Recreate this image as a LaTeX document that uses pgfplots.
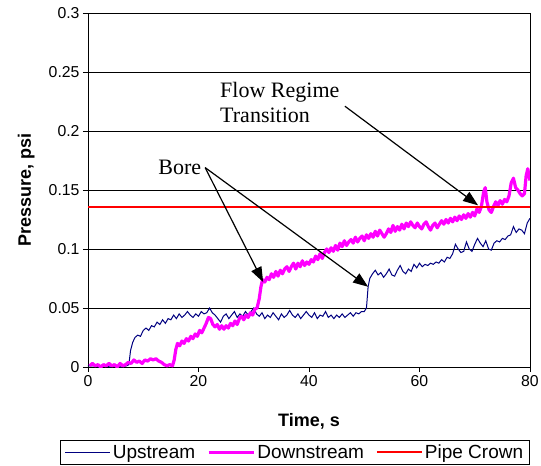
\documentclass[border=0pt]{standalone}
\usepackage{pgfplots}
\pgfplotsset{compat=1.18}
\usepackage{fontspec}
\setmainfont{Liberation Sans}
\newfontfamily\timesfont{Liberation Serif}
\usetikzlibrary{arrows.meta}
\definecolor{upnavy}{RGB}{0,0,128}
\definecolor{downmag}{RGB}{255,0,255}
\definecolor{crownred}{RGB}{255,0,0}
\pgfplotstableread{
x y
0 0.001
1 0.001
2 0.0
3 0.001
4 0.0
5 0.001
6 0.0
7 0.001
7.4 0.002
7.7 0.014
8.1 0.021
8.5 0.025
9 0.027
9.5 0.026
10 0.031
10.5 0.033
11 0.031
11.5 0.035
12 0.034
12.5 0.038
13 0.036
13.5 0.040
14 0.037
14.5 0.041
15 0.040
15.5 0.044
16 0.041
16.5 0.045
17 0.042
17.5 0.044
18 0.047
18.5 0.044
19 0.042
19.5 0.045
20 0.043
20.5 0.047
21 0.045
21.5 0.046
22 0.05
22.5 0.046
23 0.044
23.5 0.041
24 0.038
24.5 0.043
25 0.045
25.5 0.041
26 0.044
26.5 0.047
27 0.042
27.5 0.045
28 0.043
28.5 0.047
29 0.044
29.5 0.047
30 0.05
30.5 0.045
31 0.043
31.5 0.046
32 0.041
32.5 0.044
33 0.042
33.5 0.046
34 0.043
34.5 0.040
35 0.045
35.5 0.042
36 0.044
36.5 0.048
37 0.044
37.5 0.042
38 0.045
38.5 0.041
39 0.044
39.5 0.047
40 0.044
40.5 0.042
41 0.046
41.5 0.041
42 0.044
42.5 0.043
43 0.047
43.5 0.042
44 0.044
44.5 0.041
45 0.044
45.5 0.042
46 0.045
46.5 0.042
47 0.044
47.5 0.046
48 0.043
48.5 0.046
49 0.045
49.5 0.047
50 0.047
50.4 0.05
50.7 0.068
51 0.075
51.5 0.079
52 0.082
52.5 0.078
53 0.08
53.5 0.076
54 0.079
54.5 0.083
55 0.078
55.5 0.077
56 0.082
56.5 0.086
57 0.081
57.5 0.079
58 0.083
58.5 0.081
59 0.087
59.5 0.084
60 0.088
60.5 0.085
61 0.087
61.5 0.086
62 0.088
62.5 0.087
63 0.089
63.5 0.088
64 0.091
64.5 0.089
65 0.093
65.5 0.092
66 0.096
66.5 0.104
67 0.1
67.5 0.097
68 0.098
68.5 0.106
69 0.1
69.5 0.098
70 0.104
70.5 0.109
71 0.105
71.5 0.102
72 0.107
72.5 0.1
73 0.099
73.5 0.105
74 0.107
74.5 0.106
75 0.109
75.5 0.108
76 0.111
76.5 0.112
77 0.119
77.5 0.114
78 0.117
78.5 0.116
79 0.113
79.5 0.122
80 0.126
}\upstream
\pgfplotstableread{
x y
0.3 0.001
0.8 0.003
1.3 0.001
1.8 0.002
2.3 0.0
2.8 0.002
3.3 0.001
3.8 0.003
4.3 0.001
4.8 0.002
5.3 0.0
5.8 0.003
6.3 0.001
6.8 0.002
7.3 0.004
7.8 0.003
8.3 0.006
8.8 0.004
9.3 0.005
9.8 0.003
10.3 0.006
10.8 0.005
11.3 0.007
11.8 0.006
12.3 0.007
12.8 0.005
13.3 0.004
13.8 0.002
14.3 0.001
14.8 0.002
15.3 0.001
15.6 0.006
15.9 0.015
16.2 0.02
16.6 0.018
17 0.022
17.4 0.020
17.8 0.024
18.2 0.022
18.6 0.026
19 0.024
19.4 0.028
19.8 0.026
20.2 0.031
20.6 0.029
21 0.033
21.4 0.037
21.8 0.042
22.2 0.041
22.6 0.036
23 0.034
23.4 0.036
23.8 0.032
24.2 0.035
24.6 0.032
25 0.035
25.4 0.033
25.8 0.037
26.2 0.035
26.6 0.039
27 0.036
27.4 0.041
27.8 0.043
28.2 0.040
28.6 0.044
29 0.042
29.4 0.046
29.8 0.044
30.2 0.049
30.6 0.05
31 0.058
31.3 0.068
31.6 0.074
32 0.072
32.4 0.076
32.8 0.074
33.2 0.079
33.6 0.076
34 0.081
34.4 0.077
34.8 0.082
35.2 0.079
35.6 0.083
36 0.085
36.4 0.081
36.8 0.085
37.2 0.088
37.6 0.083
38 0.088
38.4 0.085
38.8 0.09
39.2 0.086
39.6 0.089
40 0.087
40.4 0.091
40.8 0.089
41.2 0.094
41.6 0.091
42 0.096
42.4 0.092
42.8 0.097
43.2 0.1
43.6 0.097
44 0.101
44.4 0.098
44.8 0.103
45.2 0.099
45.6 0.105
46 0.102
46.4 0.107
46.8 0.103
47.2 0.106
47.6 0.108
48 0.105
48.4 0.11
48.8 0.106
49.2 0.109
49.6 0.111
50 0.107
50.4 0.112
50.8 0.109
51.2 0.113
51.6 0.110
52 0.115
52.4 0.111
52.8 0.116
53.2 0.113
53.6 0.110
54 0.113
54.4 0.117
54.8 0.114
55.2 0.12
55.6 0.115
56 0.119
56.4 0.116
56.8 0.121
57.2 0.117
57.6 0.122
58 0.119
58.4 0.123
58.8 0.120
59.2 0.118
59.6 0.122
60 0.119
60.4 0.117
60.8 0.121
61.2 0.123
61.6 0.119
62 0.116
62.4 0.12
62.8 0.122
63.2 0.118
63.6 0.121
64 0.124
64.4 0.121
64.8 0.125
65.2 0.122
65.6 0.126
66 0.123
66.4 0.127
66.8 0.124
67.2 0.128
67.6 0.125
68 0.129
68.4 0.126
68.8 0.13
69.2 0.127
69.6 0.131
70 0.128
70.4 0.134
70.8 0.131
71.2 0.136
71.6 0.148
71.9 0.152
72.2 0.14
72.6 0.133
73 0.131
73.4 0.136
73.8 0.14
74.2 0.137
74.6 0.141
75 0.138
75.4 0.142
75.8 0.14
76.2 0.145
76.6 0.156
77 0.16
77.4 0.152
77.8 0.15
78.2 0.147
78.6 0.145
79 0.147
79.3 0.162
79.6 0.168
80 0.158
}\downstream
\begin{document}
\begin{tikzpicture}
\useasboundingbox (-88bp,-99bp) rectangle (453bp,367bp);
\begin{axis}[
  scale only axis,
  width=442bp, height=354bp,
  xmin=0, xmax=80, ymin=0, ymax=0.3,
  xtick={0,20,40,60,80},
  ytick={0,0.05,0.1,0.15,0.2,0.25,0.3},
  yticklabels={0,0.05,0.1,0.15,0.2,0.25,0.3},
  /pgf/number format/assume math mode=true,
  tick align=outside,
  major tick length=5bp,
  xtick pos=left, ytick pos=left,
  tick style={black, line width=0.8bp},
  axis line style={black, line width=0.8bp},
  ymajorgrids,
  grid style={black, line width=0.8bp},
  ticklabel style={font=\fontsize{15.8bp}{18bp}\selectfont},
  xlabel={\textbf{Time, s}},
  ylabel={\textbf{Pressure, psi}},
  label style={font=\fontsize{18bp}{21bp}\selectfont},
  xlabel style={at={(axis description cs:0.5,-0.13)}, anchor=north, inner sep=0pt},
  ylabel style={at={(axis description cs:-0.14,0.5)}, anchor=center, inner sep=0pt},
  legend columns=3,
  legend image code/.code={\draw[#1] (0bp,0bp) -- (45bp,0bp);},
  legend style={at={(axis description cs:0.4683,-0.2410)}, anchor=center,
    draw=black, line width=0.8bp, font=\fontsize{19bp}{22bp}\selectfont,
    inner xsep=4bp, inner ysep=2.5bp,
    /tikz/every even column/.append style={column sep=10bp}},
]
\addplot[upnavy, line width=1bp] table {\upstream};
\addlegendentry{Upstream}
\addplot[downmag, line width=3.2bp, line join=round] table {\downstream};
\addlegendentry{Downstream}
\addplot[crownred, line width=2bp] coordinates {(0,0.136) (80,0.136)};
\addlegendentry{Pipe Crown}
\node[anchor=base west, inner sep=0pt, font=\timesfont\fontsize{22bp}{25bp}\selectfont] at (axis cs:23.9,0.228) {Flow Regime};
\node[anchor=base west, inner sep=0pt, font=\timesfont\fontsize{22bp}{25bp}\selectfont] at (axis cs:23.9,0.2076) {Transition};
\node[anchor=base west, inner sep=0pt, font=\timesfont\fontsize{22bp}{25bp}\selectfont] at (axis cs:12.7,0.163) {Bore};
\draw[black, line width=1.2bp, -{Triangle[length=15bp,width=11bp]}] (axis cs:46.5,0.221) -- (axis cs:70.6,0.137);
\draw[black, line width=1.2bp, -{Triangle[length=15bp,width=11bp]}] (axis cs:21.2,0.169) -- (axis cs:31.7,0.072);
\draw[black, line width=1.2bp, -{Triangle[length=15bp,width=11bp]}] (axis cs:21.2,0.169) -- (axis cs:50.7,0.068);
\end{axis}
\end{tikzpicture}
\end{document}
